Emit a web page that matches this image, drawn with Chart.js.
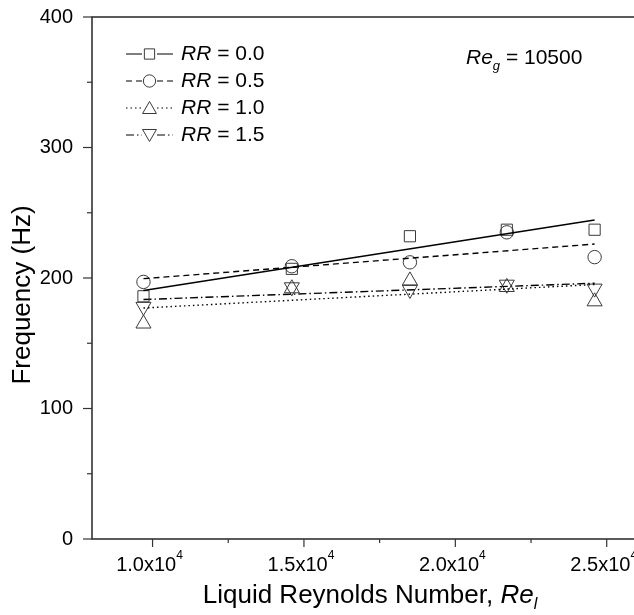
<!DOCTYPE html>
<html><head><meta charset="utf-8">
<script src="https://cdn.jsdelivr.net/npm/chart.js@4.4.1/dist/chart.umd.min.js"></script>
<style>
html,body{margin:0;padding:0;background:#fff;overflow:hidden;width:634px;height:615px}
#wrap{position:absolute;left:0;top:0;width:660px;height:615px}
</style>
</head><body><div id="wrap"><canvas id="c" width="660" height="615"></canvas></div>
<script>
// ---- data ----
const reynolds = [9700, 14600, 18500, 21700, 24600];
const freqRR00 = [186, 207, 232, 237, 237];
const freqRR05 = [197, 209, 212, 235, 216];
const freqRR10 = [165, 192, 198, 193, 182];
const freqRR15 = [178, 193, 191, 195, 192];
// linear-fit lines (end points)
const fitX = [9700, 24600];
const fitRR00 = [190.5, 244.5];
const fitRR05 = [199.5, 226];
const fitRR10 = [177, 195];
const fitRR15 = [183.5, 196];
const rrLabels = ['0.0', '0.5', '1.0', '1.5'];
const xMajorTicks = [10000, 15000, 20000, 25000];
const xTickMantissa = ['1.0', '1.5', '2.0', '2.5'];
const xMinorTicks = [12500, 17500, 22500];
const yMajorTicks = [0, 100, 200, 300, 400];
const yMinorTicks = [50, 150, 250, 350];

const FONT = '"Liberation Sans", Arial, Helvetica, sans-serif';
const MARK = '#3a3a3a';
const styles = [
  {pointStyle: 'rect', radius: 7.9, rotation: 0, dash: []},
  {pointStyle: 'circle', radius: 6.7, rotation: 0, dash: [6, 4]},
  {pointStyle: 'triangle', radius: 8.7, rotation: 0, dash: [1.5, 3]},
  {pointStyle: 'triangle', radius: 8.7, rotation: 180, dash: [8, 3, 1.5, 3]}
];
const seriesY = [freqRR00, freqRR05, freqRR10, freqRR15];
const fitY = [fitRR00, fitRR05, fitRR10, fitRR15];

const datasets = [];
seriesY.forEach((ys, i) => {
  datasets.push({
    type: 'line', label: 'fit ' + rrLabels[i],
    data: fitX.map((x, k) => ({x, y: fitY[i][k]})),
    borderColor: '#000', borderWidth: i === 0 ? 1.5 : 1.4, borderDash: styles[i].dash,
    pointRadius: 0, showLine: true, fill: false, tension: 0
  });
  datasets.push({
    type: 'scatter', label: 'RR = ' + rrLabels[i],
    data: reynolds.map((x, k) => ({x, y: ys[k]})),
    pointStyle: styles[i].pointStyle, pointRadius: styles[i].radius,
    pointRotation: styles[i].rotation,
    pointBorderColor: MARK, pointBackgroundColor: 'rgba(0,0,0,0)', pointBorderWidth: 1
  });
});

function rich(ctx, parts, x, y, align) {
  let w = 0;
  parts.forEach(p => { ctx.font = (p.italic ? 'italic ' : '') + p.size + 'px ' + FONT; p.w = ctx.measureText(p.t).width; w += p.w; });
  let cx = align === 'center' ? x - w / 2 : (align === 'right' ? x - w : x);
  parts.forEach(p => {
    ctx.font = (p.italic ? 'italic ' : '') + p.size + 'px ' + FONT;
    ctx.textAlign = 'left';
    ctx.fillText(p.t, cx, y + (p.dy || 0));
    cx += p.w;
  });
}

const deco = {
  id: 'deco',
  beforeDatasetsDraw(chart) {
    const {ctx, chartArea: a, scales: {x, y}} = chart;
    ctx.save();
    ctx.strokeStyle = '#333'; ctx.lineWidth = 1.6;
    ctx.strokeRect(a.left, a.top, a.right - a.left, a.bottom - a.top);
    ctx.lineWidth = 1.2;
    const seg = (x1, y1, x2, y2) => { ctx.beginPath(); ctx.moveTo(x1, y1); ctx.lineTo(x2, y2); ctx.stroke(); };
    yMajorTicks.forEach(v => { const p = y.getPixelForValue(v); seg(a.left - 9, p, a.left, p); });
    yMinorTicks.forEach(v => { const p = y.getPixelForValue(v); seg(a.left - 5, p, a.left, p); });
    xMajorTicks.forEach(v => { const p = x.getPixelForValue(v); seg(p, a.bottom, p, a.bottom + 8); });
    xMinorTicks.forEach(v => { const p = x.getPixelForValue(v); seg(p, a.bottom, p, a.bottom + 4); });
    ctx.restore();
  },
  afterDraw(chart) {
    const {ctx, chartArea: a, scales: {x, y}} = chart;
    ctx.save();
    ctx.fillStyle = '#000';
    ctx.textBaseline = 'middle';
    // y tick labels
    ctx.font = '20px ' + FONT; ctx.textAlign = 'right';
    yMajorTicks.forEach(v => ctx.fillText(String(v), a.left - 19, y.getPixelForValue(v)));
    // x tick labels
    xMajorTicks.forEach((v, i) => {
      rich(ctx, [{t: xTickMantissa[i] + 'x10', size: 20}, {t: '4', size: 12, dy: -9}], x.getPixelForValue(v) - 3, a.bottom + 26, 'center');
    });
    // axis titles
    rich(ctx, [{t: 'Liquid Reynolds Number, ', size: 26}, {t: 'Re', size: 26, italic: true}, {t: 'l', size: 16, italic: true, dy: 9}], 370, 596, 'center');
    ctx.save();
    ctx.translate(23, 295); ctx.rotate(-Math.PI / 2);
    rich(ctx, [{t: 'Frequency (Hz)', size: 26}], 0, 0, 'center');
    ctx.restore();
    // annotation
    rich(ctx, [{t: 'Re', size: 21, italic: true}, {t: 'g', size: 13, italic: true, dy: 8}, {t: ' = 10500', size: 21}], 466, 58, 'left');
    // legend
    const rows = [54, 81, 108, 135];
    rows.forEach((ry, i) => {
      const s = styles[i];
      ctx.strokeStyle = '#000'; ctx.lineWidth = 1.1; ctx.setLineDash(s.dash);
      ctx.beginPath(); ctx.moveTo(126, ry); ctx.lineTo(142, ry); ctx.moveTo(157, ry); ctx.lineTo(173, ry); ctx.stroke();
      ctx.setLineDash([]);
      ctx.strokeStyle = MARK; ctx.lineWidth = 1; ctx.fillStyle = 'rgba(0,0,0,0)';
      Chart.helpers.drawPoint(ctx, {pointStyle: s.pointStyle, radius: s.radius * 0.92, rotation: s.rotation, borderWidth: 1}, 149.5, ry + (s.pointStyle === 'triangle' ? (s.rotation ? -1.5 : 1.5) : 0));
      ctx.fillStyle = '#000';
      rich(ctx, [{t: 'RR', size: 21, italic: true}, {t: ' = ' + rrLabels[i], size: 21}], 181, ry, 'left');
    });
    ctx.restore();
  }
};

new Chart(document.getElementById('c'), {
  data: {datasets},
  options: {
    responsive: false, animation: false,
    layout: {padding: {left: 92, top: 17, right: 23, bottom: 76}},
    plugins: {legend: {display: false}, tooltip: {enabled: false}},
    scales: {
      x: {type: 'linear', min: 8000, max: 26000, display: false},
      y: {type: 'linear', min: 0, max: 400, display: false}
    }
  },
  plugins: [deco]
});
</script>
</body></html>
